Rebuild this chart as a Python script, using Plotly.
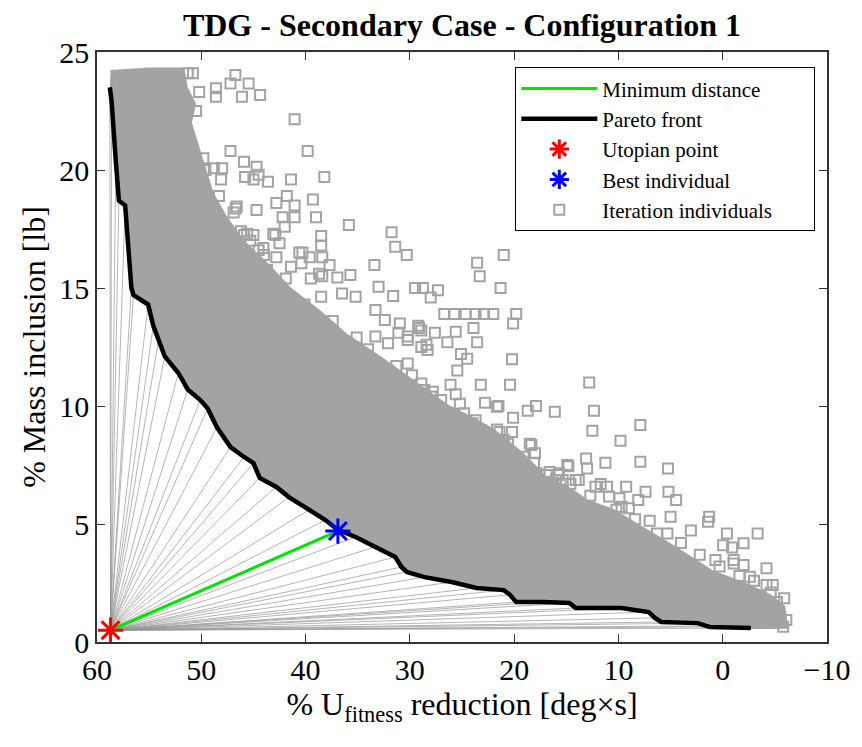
import plotly.graph_objects as go

# ---------------- data ----------------
# Pareto front (x = % U_fitness reduction, y = % mass inclusion)
front_x = [58.77, 58.6, 58.2, 57.9, 57.3, 56.7, 56.5, 55.1, 54.6, 54.1, 53.5, 52.2,
           51.3, 50.1, 49.4, 48.5, 47.2, 45.9, 45.0, 44.4, 42.8, 41.6, 39.7, 38.1,
           36.9, 35.2, 33.3, 31.4, 30.8, 30.3, 28.6, 26.0, 23.6, 21.0, 20.4, 19.8,
           17.2, 14.7, 14.1, 9.7, 7.1, 6.5, 5.9, 2.4, 1.6, 1.2, -2.7]
front_y = [23.5, 22.9, 20.4, 18.7, 18.5, 15.0, 14.7, 14.3, 13.4, 12.8, 12.1, 11.4,
           10.7, 10.25, 9.9, 9.1, 8.26, 7.84, 7.58, 6.95, 6.57, 6.14, 5.59, 5.17,
           4.75, 4.45, 4.03, 3.6, 3.18, 2.97, 2.75, 2.54, 2.29, 2.2, 2.0, 1.69,
           1.69, 1.65, 1.44, 1.44, 1.27, 1.02, 0.85, 0.8, 0.68, 0.64, 0.59]

utopian_x = [58.7]
utopian_y = [0.5]
best_x = [36.9]
best_y = [4.7]

# outer (upper/right) edge of the saturated cloud of iteration individuals
cloud_edge_x = [58.7, 55.0, 51.7, 51.4, 50.6, 51.0, 49.6, 48.9, 47.6, 46.0, 43.6, 41.5,
                38.6, 36.0, 32.6, 29.5, 26.3, 24.0, 22.0, 19.2, 17.0, 15.0, 13.0, 10.5,
                8.2, 4.5, 1.0, -2.0, -4.5, -5.9, -6.2]
cloud_edge_y = [24.2, 24.3, 24.3, 23.5, 22.8, 22.0, 20.0, 19.0, 18.0, 17.0, 16.0, 15.0,
                14.0, 13.0, 12.0, 11.0, 10.0, 9.5, 9.0, 8.0, 7.0, 6.6, 6.0, 5.6,
                5.0, 4.0, 3.0, 2.5, 2.0, 1.5, 0.6]

# individual (sparser) iteration individuals
ind_x = [46.73, 47.2, 45.46, 46.1, 44.36, 48.6, 48.6, 50.2, 51.3, 50.8, 51.6, 50.5,
         41.05, 47.2, 39.8, 45.9, 44.7, 44.5, 45.8, 45.0, 43.6, 41.4, 38.2, 49.6,
         48.8, 48.0, 48.1, 42.8, 41.8, 41.05, 39.3, 39.0, 42.2, 44.7, 46.6, 46.9,
         38.5, 38.5, 42.0, 43.1, 44.05, 42.5, 45.6, 45.3, 47.5, 46.9, 40.3, 39.6,
         38.4, 37.7, 38.7, 42.8, 43.7, 35.85, 31.75, 31.4, 30.3, 33.4, 35.7, 36.95,
         33.0, 31.6, 29.5, 28.75, 28.0, 27.3, 23.55, 21.0, 23.3, 21.3, 26.7, 25.75,
         24.65, 23.7, 22.9, 22.0, 19.8, 20.1, 25.6, 23.9, 26.4, 23.55, 28.4, 27.6,
         25.1, 24.5, 20.2, 25.45, 12.8, 20.4, 23.2, 26.1, 30.2, 29.2, 31.1, 30.96,
         12.35, 12.5, 7.9, 9.8, 16.1, 18.7, 17.9, 20.1, 21.5, 22.8, 20.2, 13.1,
         11.25, 7.9, 14.9, 18.5, 18.0, 5.25, 11.7, 11.1, 9.26, 9.9, 8.1, 7.4,
         5.2, 4.47, 9.0, 7.0, 5.0, 1.3, 1.4, 3.05, 5.3, -0.4, -3.35, -2.0,
         -0.9, -0.04, 0.7, -1.05, 13.0, 14.8, 15.8, 15.35, 13.8, -1.05, -2.0, -4.2,
         -2.6, -4.2, -4.8, -5.9, -6.1, -5.8, 15.5, 21.65, 21.65, 18.35, 19.1, 16.9,
         15.7, 15.35, 19.8, 20.9, 22.75, 24.0, 25.3, 25.6, 27.0, 30.8, 36.5, 35.2,
         33.3, 32.4, 29.1, 28.9, 41.05, 42.9, 46.7, 45.9, 45.0, 44.5, 40.6, 40.4,
         41.4, 38.4, 39.5, 43.7, 42.2, 38.5, 33.3, 32.1, 30.2, 28.9, 28.3, 30.2,
         32.1, 28.9, 28.0, 30.5, 34.9, 31.7, 28.6, 27.0, 24.8, 23.2, 21.0, 19.1,
         17.85, 16.0, 14.1, 12.2, 10.9, 9.7, 49.8, 48.3, 46.2, 44.0, 41.9, 40.1,
         37.4, 35.1, 34.0, 31.3, 29.8, 27.8, 25.2, 23.7, 21.4, 20.6, 18.1, 16.6,
         14.6, 12.7, 10.2, 8.4, 6.3, 4.0, 2.2, 0.3, -1.6, -3.0, -4.6, -5.2]
ind_y = [24.03, 23.67, 23.67, 23.1, 23.18, 23.46, 23.1, 23.3, 24.1, 24.1, 22.9, 22.5,
         22.15, 20.8, 20.8, 20.35, 20.14, 19.8, 19.7, 19.6, 19.5, 19.6, 19.7, 20.0,
         20.07, 20.07, 19.6, 18.6, 18.9, 18.5, 18.75, 18.0, 18.0, 18.3, 18.45, 18.2,
         17.2, 16.8, 17.6, 17.3, 16.7, 16.9, 17.3, 17.0, 17.0, 16.96, 16.5, 16.3,
         16.3, 15.97, 15.6, 16.3, 15.76, 17.67, 17.36, 16.75, 16.4, 15.97, 15.55, 15.45,
         15.05, 14.66, 15.0, 15.0, 14.6, 14.9, 16.07, 16.4, 15.5, 15.0, 13.9, 13.9,
         13.9, 13.9, 13.9, 13.9, 13.9, 13.5, 13.15, 13.3, 12.7, 12.7, 12.6, 13.1,
         12.2, 12.0, 11.98, 11.5, 11.0, 10.9, 10.9, 10.9, 12.8, 13.4, 13.1, 13.5,
         9.8, 8.95, 9.2, 8.53, 9.76, 9.8, 10.0, 9.5, 10.0, 10.14, 8.9, 7.78,
         7.6, 7.64, 7.5, 8.4, 8.0, 7.35, 6.7, 6.58, 6.58, 6.09, 6.02, 6.37,
         6.37, 6.02, 5.67, 5.14, 5.31, 5.31, 5.1, 4.72, 4.6, 4.6, 4.6, 4.18,
         4.0, 4.1, 3.47, 3.47, 7.35, 7.45, 7.08, 6.86, 6.86, 3.33, 3.26, 3.12,
         2.77, 2.42, 2.42, 1.85, 0.93, 0.65, 6.3, 9.97, 9.0, 8.35, 7.3, 7.08,
         7.15, 6.44, 6.86, 7.92, 8.35, 9.27, 9.27, 10.5, 9.55, 9.97, 14.77, 14.63,
         14.07, 13.64, 13.3, 12.5, 18.0, 17.25, 18.37, 17.25, 17.25, 16.6, 16.5, 16.05,
         15.9, 15.5, 15.4, 15.06, 14.63, 14.63, 12.94, 12.66, 12.94, 13.2, 12.37, 11.8,
         11.5, 10.95, 10.4, 10.7, 10.68, 10.25, 10.68, 10.25, 9.69, 8.98, 8.56, 7.85,
         7.15, 6.86, 6.86, 6.58, 6.16, 5.73, 20.5, 18.9, 17.4, 16.4, 15.4, 14.3,
         13.6, 12.9, 12.4, 11.7, 11.3, 10.6, 10.1, 9.4, 8.9, 8.4, 7.6, 7.2,
         6.7, 6.2, 5.6, 5.2, 4.6, 4.2, 3.7, 3.2, 2.8, 2.6, 2.1, 1.7]

x_ticks = [60, 50, 40, 30, 20, 10, 0, -10]
y_ticks = [0, 5, 10, 15, 20, 25]

SERIF = "Liberation Serif, Times New Roman, serif"
GRAY = "rgb(163,163,163)"
NB = "\u00a0"

fig = go.Figure()

# fan of distances from the utopian point to each Pareto individual
fan_x, fan_y = [], []
for fx, fy in zip(front_x, front_y):
    fan_x += [utopian_x[0], fx, None]
    fan_y += [utopian_y[0], fy, None]
fig.add_trace(go.Scatter(x=fan_x, y=fan_y, mode="lines",
                         line=dict(color="rgba(150,150,150,0.7)", width=1),
                         showlegend=False, hoverinfo="skip"))

# saturated cloud region (upper edge + Pareto front as lower edge)
poly_x = cloud_edge_x + front_x[::-1]
poly_y = cloud_edge_y + front_y[::-1]
fig.add_trace(go.Scatter(x=poly_x, y=poly_y, mode="lines", fill="toself",
                         fillcolor=GRAY, line=dict(color=GRAY, width=2),
                         showlegend=False, hoverinfo="skip"))

fig.add_trace(go.Scatter(x=ind_x, y=ind_y, mode="markers",
                         name="Iteration individuals" + NB * 7,
                         marker=dict(symbol="square-open", size=10, color=GRAY,
                                     line=dict(width=2, color=GRAY)),
                         legendgroup="e", legendrank=5))

fig.add_trace(go.Scatter(x=front_x, y=front_y, mode="lines", name="Pareto front",
                         line=dict(color="black", width=4.5), legendgroup="b", legendrank=2))

fig.add_trace(go.Scatter(x=[utopian_x[0], best_x[0]], y=[utopian_y[0], best_y[0]],
                         mode="lines", name="Minimum distance",
                         line=dict(color="rgb(0,230,0)", width=3), legendgroup="a", legendrank=1))

fig.add_trace(go.Scatter(x=utopian_x, y=utopian_y, mode="markers", name="Utopian point",
                         marker=dict(symbol="asterisk-open", size=21, color="red",
                                     line=dict(width=3, color="red")),
                         legendgroup="c", legendrank=3, cliponaxis=False))

fig.add_trace(go.Scatter(x=best_x, y=best_y, mode="markers", name="Best individual",
                         marker=dict(symbol="asterisk-open", size=21, color="blue",
                                     line=dict(width=3, color="blue")),
                         legendgroup="d", legendrank=4))

axis_common = dict(showgrid=False, zeroline=False, showline=True, linecolor="#333333",
                   linewidth=1.5, mirror="ticks", ticks="inside", ticklen=8,
                   tickwidth=1.2, tickcolor="#333333", ticklabeloverflow="allow",
                   tickfont=dict(family=SERIF, size=30, color="black"))

fig.update_layout(
    width=862, height=747, autosize=False,
    margin=dict(l=97, r=23, t=52, b=105),
    paper_bgcolor="white", plot_bgcolor="white",
    title=dict(text="<b>TDG - Secondary Case - Configuration 1</b>",
               x=0.5, xref="paper", y=0.967, yanchor="middle",
               font=dict(family=SERIF, size=32, color="black")),
    xaxis=dict(range=[60, -10], tickvals=x_ticks,
               title=dict(text="% U<sub>fitness</sub> reduction [deg×s]",
                          font=dict(family=SERIF, size=32, color="black"), standoff=8),
               **axis_common),
    yaxis=dict(range=[0, 25], tickvals=y_ticks,
               title=dict(text="% Mass inclusion [lb]",
                          font=dict(family=SERIF, size=32, color="black"), standoff=4),
               **axis_common),
    legend=dict(x=0.984, y=0.974, xanchor="right", yanchor="top",
                bgcolor="white", bordercolor="black", borderwidth=1,
                font=dict(family=SERIF, size=21, color="black"),
                traceorder="grouped", tracegroupgap=0, itemwidth=76),
    showlegend=True,
)

fig.write_html("out.html")
